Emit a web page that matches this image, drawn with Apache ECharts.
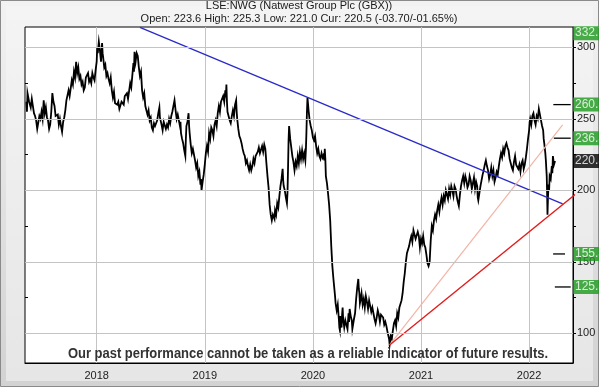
<!DOCTYPE html>
<html><head><meta charset="utf-8">
<script src="https://cdn.jsdelivr.net/npm/echarts@6/dist/echarts.min.js"></script>
<style>html,body{margin:0;padding:0;background:#fff}#c{width:599px;height:387px}</style>
</head><body><div id="c"></div>
<script>
// Closing prices: [fractional year, price in GBX]
const price2017 = [[2017.35,262],[2017.355,255],[2017.36,268],[2017.375,262],[2017.39,258],[2017.40,264],[2017.41,259],[2017.42,254],[2017.43,252],[2017.44,249],[2017.45,243],[2017.46,244],[2017.47,252],[2017.48,250],[2017.49,255],[2017.50,250],[2017.51,263],[2017.52,254],[2017.53,258],[2017.54,251],[2017.55,249],[2017.56,243],[2017.57,246],[2017.58,255],[2017.59,268],[2017.60,262],[2017.61,259],[2017.62,252],[2017.64,253],[2017.65,246],[2017.66,250],[2017.67,245],[2017.68,241],[2017.69,248],[2017.70,251],[2017.71,256],[2017.72,263],[2017.74,270],[2017.75,266],[2017.77,277],[2017.78,274],[2017.79,283],[2017.80,279],[2017.81,290],[2017.82,282],[2017.83,286],[2017.84,278],[2017.85,280],[2017.86,274],[2017.87,276],[2017.88,270],[2017.89,272],[2017.90,279],[2017.92,282],[2017.93,276],[2017.94,278],[2017.95,275],[2017.96,282],[2017.97,279],[2017.98,277],[2017.99,284]];
const price2018 = [[2018.00,290],[2018.005,300],[2018.01,296],[2018.02,304],[2018.03,298],[2018.04,290],[2018.05,303],[2018.055,296],[2018.06,293],[2018.07,286],[2018.08,288],[2018.09,280],[2018.10,282],[2018.11,278],[2018.12,275],[2018.13,279],[2018.14,270],[2018.15,265],[2018.16,269],[2018.17,261],[2018.19,260],[2018.20,262],[2018.21,257],[2018.22,256],[2018.23,262],[2018.25,260],[2018.26,266],[2018.28,268],[2018.29,264],[2018.31,275],[2018.32,272],[2018.34,289],[2018.345,283],[2018.35,297],[2018.36,290],[2018.37,296],[2018.38,294],[2018.39,286],[2018.40,280],[2018.41,283],[2018.42,270],[2018.43,265],[2018.44,268],[2018.45,259],[2018.46,258],[2018.47,253],[2018.48,256],[2018.49,249],[2018.50,251],[2018.51,244],[2018.52,242],[2018.53,247],[2018.54,245],[2018.56,249],[2018.57,254],[2018.58,258],[2018.585,251],[2018.59,250],[2018.60,246],[2018.61,242],[2018.62,248],[2018.63,248],[2018.64,243],[2018.65,246],[2018.66,244],[2018.67,250],[2018.68,247],[2018.69,252],[2018.70,255],[2018.71,259],[2018.72,263],[2018.73,256],[2018.74,250],[2018.75,253],[2018.77,245],[2018.775,248],[2018.78,240],[2018.79,236],[2018.80,233],[2018.81,228],[2018.82,224],[2018.825,236],[2018.83,245],[2018.84,248],[2018.85,254],[2018.855,245],[2018.86,240],[2018.87,232],[2018.88,226],[2018.89,229],[2018.91,221],[2018.92,216],[2018.93,219],[2018.94,210],[2018.95,213],[2018.96,204],[2018.965,208],[2018.97,200],[2018.98,206],[2018.99,211]];
const price2019 = [[2019.00,218],[2019.01,226],[2019.02,231],[2019.03,227],[2019.04,240],[2019.05,236],[2019.06,244],[2019.07,242],[2019.08,238],[2019.09,246],[2019.10,249],[2019.11,245],[2019.12,254],[2019.13,259],[2019.14,255],[2019.15,262],[2019.17,266],[2019.18,262],[2019.19,270],[2019.195,265],[2019.20,274],[2019.205,262],[2019.21,255],[2019.22,252],[2019.23,249],[2019.24,247],[2019.25,252],[2019.26,256],[2019.27,252],[2019.28,260],[2019.29,263],[2019.295,255],[2019.30,250],[2019.31,243],[2019.32,238],[2019.33,236],[2019.34,233],[2019.35,229],[2019.36,226],[2019.37,224],[2019.38,219],[2019.39,221],[2019.40,217],[2019.41,214],[2019.42,218],[2019.43,214],[2019.44,217],[2019.45,222],[2019.46,219],[2019.47,224],[2019.48,223],[2019.49,227],[2019.50,230],[2019.51,226],[2019.53,231],[2019.54,227],[2019.55,232],[2019.56,229],[2019.565,224],[2019.57,219],[2019.58,210],[2019.59,202],[2019.595,196],[2019.60,190],[2019.61,183],[2019.62,179],[2019.63,183],[2019.64,184],[2019.645,180],[2019.65,186],[2019.66,183],[2019.67,191],[2019.68,188],[2019.69,196],[2019.70,203],[2019.71,208],[2019.72,215],[2019.725,207],[2019.73,203],[2019.74,200],[2019.75,195],[2019.76,191],[2019.765,198],[2019.77,215],[2019.775,235],[2019.78,245],[2019.79,236],[2019.80,230],[2019.81,224],[2019.82,220],[2019.83,214],[2019.84,220],[2019.85,217],[2019.86,224],[2019.87,219],[2019.88,227],[2019.89,222],[2019.90,228],[2019.91,222],[2019.92,226],[2019.93,221],[2019.935,228],[2019.94,240],[2019.945,255],[2019.95,265],[2019.96,256],[2019.97,249],[2019.98,245],[2019.99,242]];
const price2020 = [[2020.00,237],[2020.01,235],[2020.02,238],[2020.03,231],[2020.04,226],[2020.05,229],[2020.06,224],[2020.07,222],[2020.08,226],[2020.09,223],[2020.10,225],[2020.105,221],[2020.11,229],[2020.115,222],[2020.12,210],[2020.13,205],[2020.14,198],[2020.15,190],[2020.16,179],[2020.165,170],[2020.17,161],[2020.175,154],[2020.18,147],[2020.19,138],[2020.20,130],[2020.205,126],[2020.21,121],[2020.22,116],[2020.23,120],[2020.24,110],[2020.245,104],[2020.25,102],[2020.255,112],[2020.26,107],[2020.265,104],[2020.27,113],[2020.275,118],[2020.28,110],[2020.29,104],[2020.30,109],[2020.31,106],[2020.32,103],[2020.33,114],[2020.335,108],[2020.34,117],[2020.35,112],[2020.36,109],[2020.365,103],[2020.37,104],[2020.38,110],[2020.39,114],[2020.395,119],[2020.40,124],[2020.41,132],[2020.42,138],[2020.425,131],[2020.43,128],[2020.435,121],[2020.44,123],[2020.45,128],[2020.46,120],[2020.47,124],[2020.48,118],[2020.49,126],[2020.50,122],[2020.51,117],[2020.52,123],[2020.53,119],[2020.54,115],[2020.55,118],[2020.56,114],[2020.57,110],[2020.58,107],[2020.59,111],[2020.60,116],[2020.61,113],[2020.62,108],[2020.63,113],[2020.65,111],[2020.66,106],[2020.67,108],[2020.68,105],[2020.69,101],[2020.70,100],[2020.705,96],[2020.71,92],[2020.72,98],[2020.73,96],[2020.74,102],[2020.75,107],[2020.76,109],[2020.77,105],[2020.78,114],[2020.79,111],[2020.80,118],[2020.81,117],[2020.82,123],[2020.83,128],[2020.84,136],[2020.85,142],[2020.86,150],[2020.87,156],[2020.88,155],[2020.89,161],[2020.90,165],[2020.91,168],[2020.92,164],[2020.93,172],[2020.94,171],[2020.95,166],[2020.96,165],[2020.97,171],[2020.98,168],[2020.99,160]];
const price2021 = [[2021.00,166],[2021.01,163],[2021.02,168],[2021.03,162],[2021.04,160],[2021.05,155],[2021.06,149],[2021.07,147],[2021.08,150],[2021.09,165],[2021.10,175],[2021.11,172],[2021.12,179],[2021.13,183],[2021.14,180],[2021.15,186],[2021.16,190],[2021.17,185],[2021.18,191],[2021.19,195],[2021.20,190],[2021.21,196],[2021.22,193],[2021.23,200],[2021.24,199],[2021.25,194],[2021.26,201],[2021.27,197],[2021.28,203],[2021.29,200],[2021.30,196],[2021.31,203],[2021.32,201],[2021.33,196],[2021.34,192],[2021.35,189],[2021.36,197],[2021.37,203],[2021.38,207],[2021.39,210],[2021.40,205],[2021.41,210],[2021.42,207],[2021.43,202],[2021.44,204],[2021.45,210],[2021.46,207],[2021.47,201],[2021.48,205],[2021.49,209],[2021.50,201],[2021.51,206],[2021.52,203],[2021.525,195],[2021.53,193],[2021.54,198],[2021.55,203],[2021.56,207],[2021.57,211],[2021.58,214],[2021.59,218],[2021.60,221],[2021.61,217],[2021.62,214],[2021.63,208],[2021.64,211],[2021.65,216],[2021.66,210],[2021.67,214],[2021.68,206],[2021.69,209],[2021.70,213],[2021.71,211],[2021.72,217],[2021.73,222],[2021.74,226],[2021.75,223],[2021.76,229],[2021.77,226],[2021.78,231],[2021.79,233],[2021.80,230],[2021.81,228],[2021.82,222],[2021.83,219],[2021.84,216],[2021.85,214],[2021.86,220],[2021.87,224],[2021.88,218],[2021.89,219],[2021.90,215],[2021.91,218],[2021.92,213],[2021.93,219],[2021.94,221],[2021.95,215],[2021.96,218],[2021.97,223],[2021.98,229],[2021.99,236]];
const price2022 = [[2022.00,242],[2022.005,248],[2022.01,250],[2022.02,246],[2022.03,252],[2022.04,254],[2022.05,249],[2022.06,246],[2022.07,252],[2022.08,250],[2022.09,257],[2022.10,253],[2022.11,249],[2022.12,245],[2022.13,242],[2022.135,236],[2022.14,233],[2022.15,226],[2022.155,221],[2022.16,214],[2022.163,210],[2022.167,196],[2022.17,183],[2022.175,196],[2022.18,204],[2022.185,200],[2022.19,210],[2022.20,208],[2022.21,217],[2022.215,212],[2022.22,224],[2022.23,218],[2022.24,220.5]];

const xMin = 2017.337, xMax = 2022.406;
const yMin = 79.2, yMax = 314.3;
const yearTicks = [2018, 2019, 2020, 2021, 2022];
const priceTicks = [100, 125, 150, 175, 200, 225, 250, 275, 300];
const priceLabels = [100, 150, 200, 250, 300];
const gridValues = [100, 150, 200, 250, 300];

const trendBlue = [[2018.40, 314.1], [2022.31, 190.5]];
const trendPink = [[2020.71, 91.8], [2022.31, 245.8]];
const trendRed = [[2020.71, 91.8], [2022.50, 201.7]];

// tags on the right edge: drawn level and text
const tagLevels = [332.7, 260.0, 236.5, 155.5, 132.4];
const tagTexts = ['332.7', '260.5', '236.5', '155.5', '125.5'];
const curValue = 220.5;
const curText = '220.5';
// short target markers: [start date, end date, price]
const targetMarks = [[2022.224, 2022.385, 260.0], [2022.229, 2022.385, 236.5], [2022.222, 2022.332, 155.5], [2022.238, 2022.385, 132.4]];

const titleText = 'LSE:NWG (Natwest Group Plc (GBX))';
const quoteText = 'Open: 223.6 High: 225.3 Low: 221.0 Cur: 220.5 (-03.70/-01.65%)';
const disclaimer = 'Our past performance cannot be taken as a reliable indicator of future results.';

const priceData = [].concat(price2017, price2018, price2019, price2020, price2021, price2022);
const chart = echarts.init(document.getElementById('c'), null, {renderer: 'canvas'});
const font = 'Liberation Sans, Arial, sans-serif';

const series = [];
series.push({
  type: 'line', name: 'grid', data: [], z: 1, silent: true,
  markLine: {
    silent: true, symbol: 'none', label: {show: false}, animation: false,
    lineStyle: {color: '#c4c4c4', width: 1, type: 'solid'},
    data: gridValues.map(v => ({yAxis: v}))
  }
});
series.push({
  type: 'line', name: 'price', data: priceData, sampling: null,
  showSymbol: false, symbol: 'none', z: 3,
  lineStyle: {color: '#000', width: 1.8, join: 'miter'}
});
series.push({type: 'line', data: trendBlue, showSymbol: false, symbol: 'none', z: 4, lineStyle: {color: '#2a2ac8', width: 1.3}});
series.push({type: 'line', data: trendPink, showSymbol: false, symbol: 'none', z: 4, lineStyle: {color: '#f2b4a6', width: 1.2}});
series.push({type: 'line', data: trendRed, showSymbol: false, symbol: 'none', z: 4, clip: false, lineStyle: {color: '#e21c1c', width: 1.4}});
targetMarks.forEach(m => {
  series.push({type: 'line', data: [[m[0], m[2]], [m[1], m[2]]], showSymbol: false, symbol: 'none', z: 4, clip: false, lineStyle: {color: '#000', width: 1.3}});
});
series.push({
  type: 'scatter', z: 10, clip: false, symbolSize: 0,
  data: tagLevels.map((v, i) => ({value: [xMax, Math.min(v, 310)], label: {formatter: tagTexts[i]}})),
  label: {show: true, position: 'right', distance: 0, color: '#fff', backgroundColor: '#1c9a1c',
          fontSize: 12, fontFamily: font, padding: [1, 2, 0, 2], lineHeight: 13}
});
series.push({
  type: 'scatter', z: 10, clip: false, symbolSize: 0,
  data: [{value: [xMax, curValue], label: {formatter: curText}}],
  label: {show: true, position: 'right', distance: 0, color: '#fff', backgroundColor: '#000',
          fontSize: 12, fontFamily: font, padding: [1, 2, 0, 2], lineHeight: 13}
});

chart.setOption({
  animation: false,
  backgroundColor: '#e2e2e2',
  textStyle: {fontFamily: font},
  grid: {left: 25, top: 27, right: 26, bottom: 24, show: true, backgroundColor: '#fff', borderColor: '#000', borderWidth: 1},
  xAxis: {
    type: 'value', min: xMin, max: xMax,
    axisLine: {show: true, lineStyle: {color: '#000'}},
    axisTick: {show: false, customValues: yearTicks},
    axisLabel: {customValues: yearTicks, formatter: v => String(Math.round(v)), color: '#222', fontSize: 11, margin: 7, fontFamily: font},
    splitLine: {show: true, lineStyle: {color: '#c4c4c4', width: 1}}
  },
  yAxis: [{
    type: 'value', position: 'right', min: yMin, max: yMax,
    axisLine: {show: true, lineStyle: {color: '#000'}},
    axisTick: {show: true, customValues: priceTicks, length: 3, inside: false, lineStyle: {color: '#000'}},
    axisLabel: {customValues: priceLabels, color: '#222', fontSize: 11, margin: 4, fontFamily: font},
    splitLine: {show: false}
  }, {
    type: 'value', position: 'left', min: yMin, max: yMax,
    axisLine: {show: false},
    axisTick: {show: true, customValues: priceTicks, length: 3, inside: true, lineStyle: {color: '#000'}},
    axisLabel: {show: false},
    splitLine: {show: false}
  }],
  graphic: [
    {type: 'rect', z: -10, silent: true, shape: {x: 0.5, y: 0.5, width: 598, height: 386},
     style: {fill: new echarts.graphic.LinearGradient(0, 0, 0, 1, [{offset: 0, color: '#f2f2f2'}, {offset: 1, color: '#d2d2d2'}]), stroke: '#8a8a8a', lineWidth: 1}},
    {type: 'rect', z: -9, silent: true, shape: {x: 6, y: 6, width: 587, height: 375},
     style: {fill: new echarts.graphic.LinearGradient(0, 0, 0, 1, [{offset: 0, color: '#f4f4f4'}, {offset: 1, color: '#e6e6e6'}])}},
    {type: 'text', z: 20, silent: true, x: 299, y: 6,
     style: {text: titleText, fill: '#1a1a1a', font: '11px ' + font, textAlign: 'center', textVerticalAlign: 'middle'}},
    {type: 'text', z: 20, silent: true, x: 299, y: 19,
     style: {text: quoteText, fill: '#1a1a1a', font: '11px ' + font, textAlign: 'center', textVerticalAlign: 'middle'}},
    {type: 'text', z: 20, silent: true, x: 308, y: 354, scaleX: 0.865, scaleY: 1,
     style: {text: disclaimer, fill: '#333', font: 'bold 15px "Liberation Sans Narrow", "Arial Narrow", sans-serif', textAlign: 'center', textVerticalAlign: 'middle'}}
  ],
  series: series
});
</script></body></html>
